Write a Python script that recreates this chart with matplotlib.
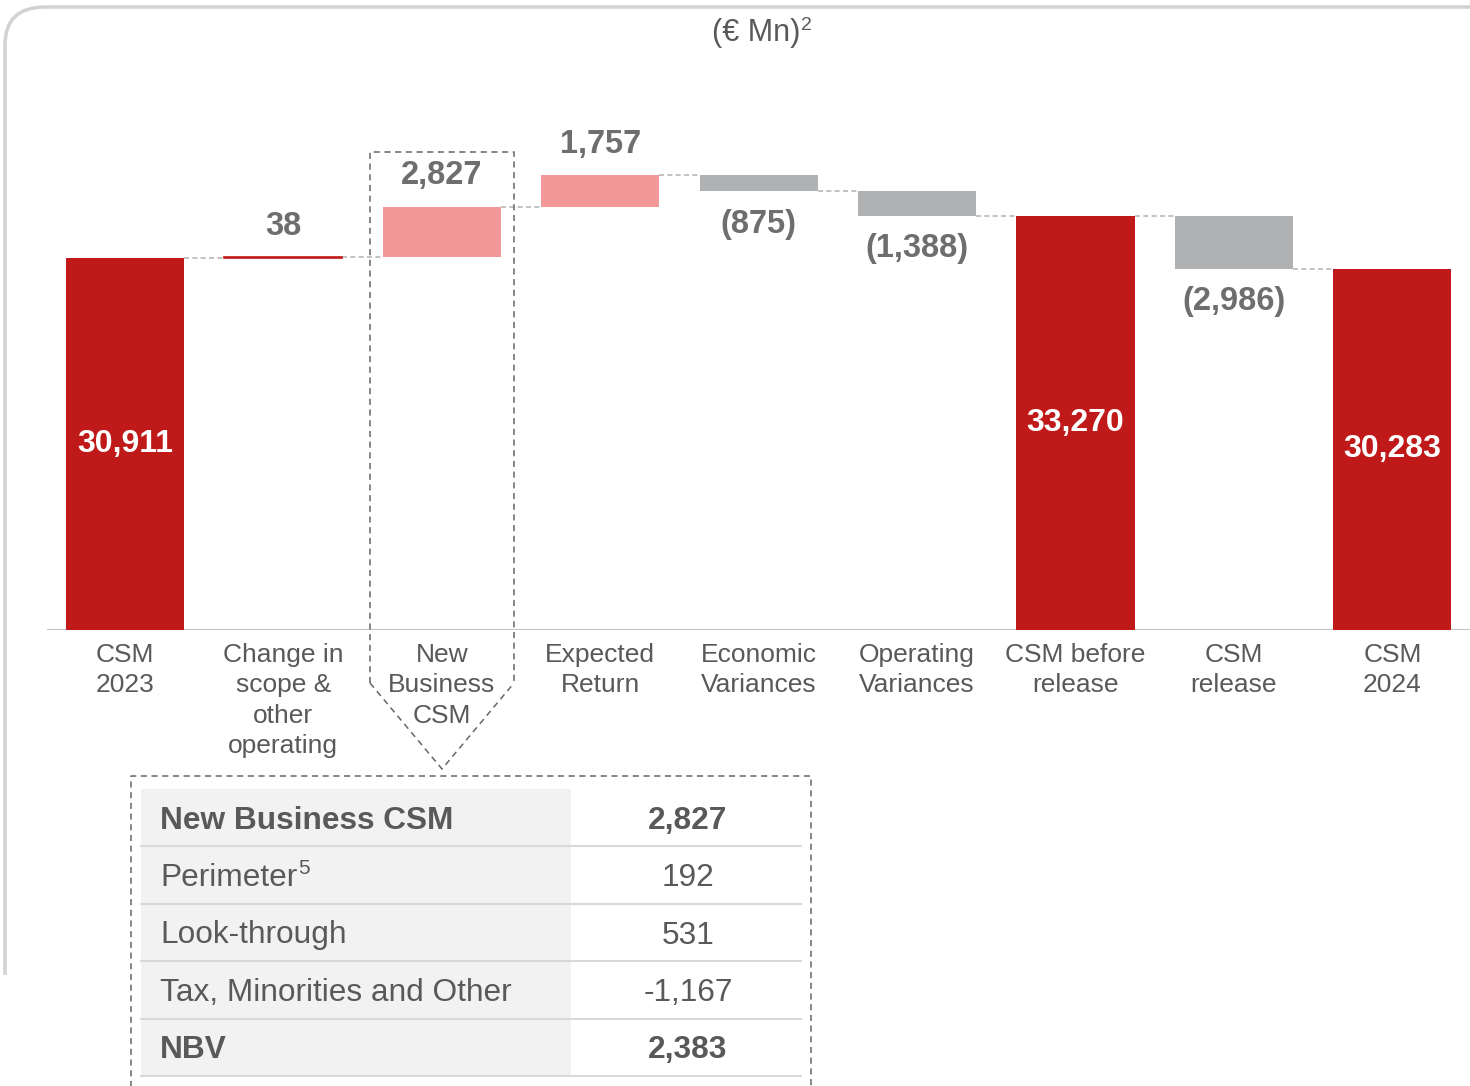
import matplotlib.pyplot as plt
from matplotlib.patches import Rectangle, PathPatch
from matplotlib.path import Path

plt.rcParams['font.family'] = ['Liberation Sans', 'DejaVu Sans']

# waterfall data (EUR Mn)
categories = ["CSM\n2023", "Change in\nscope &\nother\noperating", "New\nBusiness\nCSM",
              "Expected\nReturn", "Economic\nVariances", "Operating\nVariances",
              "CSM before\nrelease", "CSM\nrelease", "CSM\n2024"]
values = [30911, 38, 2827, 1757, -875, -1388, 33270, -2986, 30283]
is_total = [True, False, False, False, False, False, True, False, True]
value_labels = ["30,911", "38", "2,827", "1,757", "(875)", "(1,388)", "33,270", "(2,986)", "30,283"]

# new business breakdown table
nb_rows = ["New Business CSM", "Perimeter", "Look-through", "Tax, Minorities and Other", "NBV"]
nb_sup = ["", "5", "", "", ""]
nb_vals = ["2,827", "192", "531", "-1,167", "2,383"]
nb_bold = [True, False, False, False, True]

RED = '#c0191a'
PINK = '#f29898'
GREY = '#b0b1b3'
TXT = '#595959'
VAL = '#6e6e6e'

W, H = 1470, 1086
fig = plt.figure(figsize=(W / 100, H / 100), dpi=100)
ax = fig.add_axes([47 / W, 1 - 630 / H, (W - 47) / W, 630 / H])
base = 10000
ax.set_ylim(base, base + 630 * 56.17)
ax.set_xlim(-0.492, 8.49)
ax.axis('off')
ax.axhline(base, color='#c4c4c4', lw=1.5, zorder=1)

bw = 0.745
run = 0
tops = []
for i, v in enumerate(values):
    if is_total[i]:
        ax.bar(i, v - base, bottom=base, width=bw, color=RED, zorder=3)
        ax.text(i, (v + base) / 2, value_labels[i], ha='center', va='center',
                color='white', fontsize=23, fontweight='bold', zorder=4)
        run = v
    else:
        lo, hi = min(run, run + v), max(run, run + v)
        col = PINK if v > 0 else GREY
        if abs(v) < 100:
            ax.bar(i, hi - lo, bottom=lo, width=bw, color=RED, edgecolor=RED, lw=1.2, zorder=3)
        else:
            ax.bar(i, hi - lo, bottom=lo, width=bw, color=col, zorder=3)
        if v > 0:
            ax.annotate(value_labels[i], (i, hi), xytext=(0, 31), textcoords='offset pixels',
                        ha='center', va='center', color=VAL, fontsize=23.5, fontweight='bold')
        else:
            ax.annotate(value_labels[i], (i, lo), xytext=(0, -33), textcoords='offset pixels',
                        ha='center', va='center', color=VAL, fontsize=23.5, fontweight='bold')
        run = run + v
    tops.append(run)
    ax.annotate(categories[i], (i, base), xytext=(0, -13), textcoords='offset pixels',
                ha='center', va='top', color=TXT, fontsize=19, linespacing=1.34,
                annotation_clip=False)

# connectors
for i in range(len(values) - 1):
    ax.plot([i + bw / 2, i + 1 - bw / 2], [tops[i], tops[i]], color='#b8b8b8',
            lw=1.2, ls=(0, (3, 2)), zorder=2)

# overlay in pixel coords for frame, title, callout and table
ov = fig.add_axes([0, 0, 1, 1])
ov.set_xlim(0, W)
ov.set_ylim(H, 0)
ov.axis('off')
ov.set_facecolor('none')

frame = Path([(5, 975), (5, 45), (5, 7), (45, 7), (W + 5, 7)],
             [Path.MOVETO, Path.LINETO, Path.CURVE3, Path.CURVE3, Path.LINETO])
ov.add_patch(PathPatch(frame, fill=False, edgecolor='#d2d2d2', lw=2.5))

ov.text(800, 33, "(\u20ac Mn)", ha='right', va='center', color=TXT, fontsize=22)
ov.text(801, 25, "2", ha='left', va='center', color=TXT, fontsize=14)

dash = dict(color='#666666', lw=1.1, ls=(0, (4, 3)))
ov.plot([370, 370, 514, 514], [683, 152, 152, 683], **dash)
ov.plot([370, 442, 514], [683, 769, 683], **dash)

# table
ov.plot([131, 131, 811, 811], [H + 5, 776, 776, H + 5], **dash)
ov.add_patch(Rectangle((141, 789), 571 - 141, 1076 - 789, color='#f2f2f2', lw=0))
row_h = 57.4
renderer = fig.canvas.get_renderer()
for k, (lab, val, b) in enumerate(zip(nb_rows, nb_vals, nb_bold)):
    yc = 789 + row_h * (k + 0.5) + 3
    fw = 'bold' if b else 'normal'
    t = ov.text(160, yc, lab, ha='left', va='center', color=TXT, fontsize=22.8, fontweight=fw)
    if nb_sup[k]:
        bb = t.get_window_extent(renderer)
        x_end = ov.transData.inverted().transform((bb.x1, bb.y0))[0]
        ov.text(x_end + 1, yc - 10, nb_sup[k], ha='left', va='center', color=TXT, fontsize=15)
    ov.text(688, yc, val, ha='center', va='center', color=TXT, fontsize=22.8, fontweight=fw)
    ov.plot([141, 801], [789 + row_h * (k + 1)] * 2, color='#d9d9d9', lw=1.5)

fig.savefig('out.png', dpi=100)
